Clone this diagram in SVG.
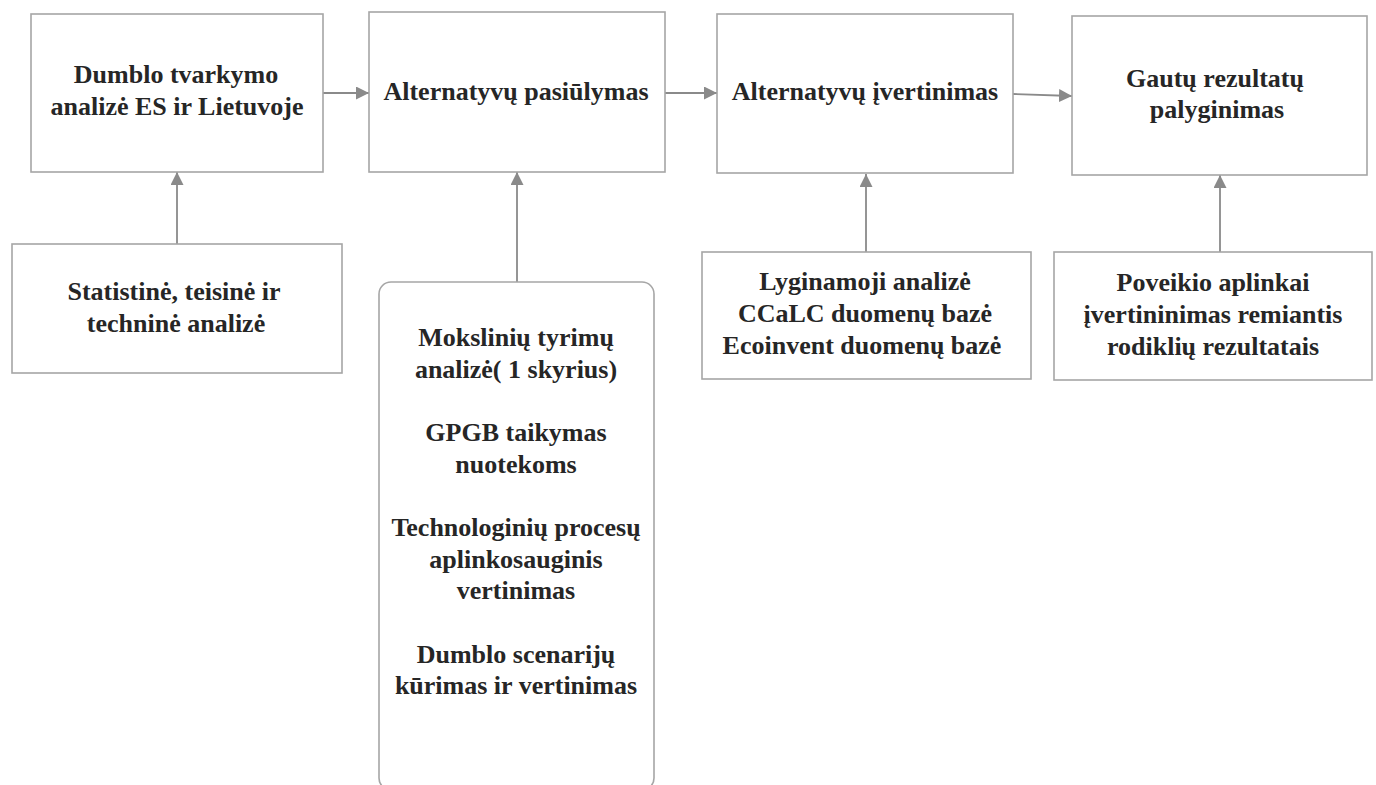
<svg xmlns="http://www.w3.org/2000/svg" width="1376" height="785" viewBox="0 0 1376 785">
  <style>
    .box { fill: #ffffff; stroke: #a6a6a6; stroke-width: 1.6; }
    .edge { stroke: #8a8a8a; stroke-width: 1.8; fill: none; marker-end: url(#arrow); }
  </style>
  <defs>
    <marker id="arrow" markerUnits="userSpaceOnUse" markerWidth="14" markerHeight="13" refX="13" refY="6.5" orient="auto">
      <path d="M0,0 L13,6.5 L0,13 Z" fill="#8a8a8a"/>
    </marker>
  </defs>
  <rect width="1376" height="785" fill="#ffffff"/>

  <!-- connectors -->
  <g id="connectors">
    <line class="edge" x1="323" y1="93" x2="369" y2="93"/>
    <line class="edge" x1="665" y1="93" x2="717" y2="93"/>
    <line class="edge" x1="1013" y1="94" x2="1072" y2="96"/>
    <line class="edge" x1="177" y1="244" x2="177" y2="172"/>
    <line class="edge" x1="517" y1="282" x2="517" y2="172"/>
    <line class="edge" x1="866" y1="252" x2="866" y2="174"/>
    <line class="edge" x1="1220" y1="252" x2="1220" y2="175"/>
  </g>

  <g font-family="Liberation Serif, Times New Roman, serif" font-weight="bold" font-size="26" fill="#262626" text-anchor="middle">
  <!-- main process steps -->
  <g id="step-analysis">
    <rect class="box" x="31" y="14" width="292" height="158"/>
    <text x="176" y="83">Dumblo tvarkymo</text>
    <text x="177" y="115">analizė ES ir Lietuvoje</text>
  </g>
  <g id="step-proposal">
    <rect class="box" x="369" y="12" width="296" height="160"/>
    <text x="516" y="100">Alternatyvų pasiūlymas</text>
  </g>
  <g id="step-evaluation">
    <rect class="box" x="717" y="14" width="296" height="159"/>
    <text x="865" y="100">Alternatyvų įvertinimas</text>
  </g>
  <g id="step-comparison">
    <rect class="box" x="1072" y="16" width="295" height="159"/>
    <text x="1215" y="87">Gautų rezultatų</text>
    <text x="1217" y="118">palyginimas</text>
  </g>

  <!-- supporting inputs -->
  <g id="input-statistics">
    <rect class="box" x="12" y="244" width="330" height="129"/>
    <text x="174" y="300">Statistinė, teisinė ir</text>
    <text x="176" y="332">techninė analizė</text>
  </g>
  <g id="input-research">
    <rect class="box" x="379" y="282" width="275" height="508" rx="12" ry="12"/>
    <text x="516" y="346">Mokslinių tyrimų</text>
    <text x="516" y="378">analizė( 1 skyrius)</text>
    <text x="516" y="441">GPGB taikymas</text>
    <text x="516" y="473">nuotekoms</text>
    <text x="516" y="536">Technologinių procesų</text>
    <text x="516" y="568">aplinkosauginis</text>
    <text x="516" y="599">vertinimas</text>
    <text x="516" y="663">Dumblo scenarijų</text>
    <text x="516" y="694">kūrimas ir vertinimas</text>
  </g>
  <g id="input-databases">
    <rect class="box" x="702" y="252" width="329" height="127"/>
    <text x="865" y="290">Lyginamoji analizė</text>
    <text x="865" y="322">CCaLC duomenų bazė</text>
    <text x="862" y="354">Ecoinvent duomenų bazė</text>
  </g>
  <g id="input-impact">
    <rect class="box" x="1054" y="252" width="318" height="128"/>
    <text x="1213" y="291">Poveikio aplinkai</text>
    <text x="1213" y="323">įvertininimas remiantis</text>
    <text x="1213" y="355">rodiklių rezultatais</text>
  </g>
  </g>
</svg>
